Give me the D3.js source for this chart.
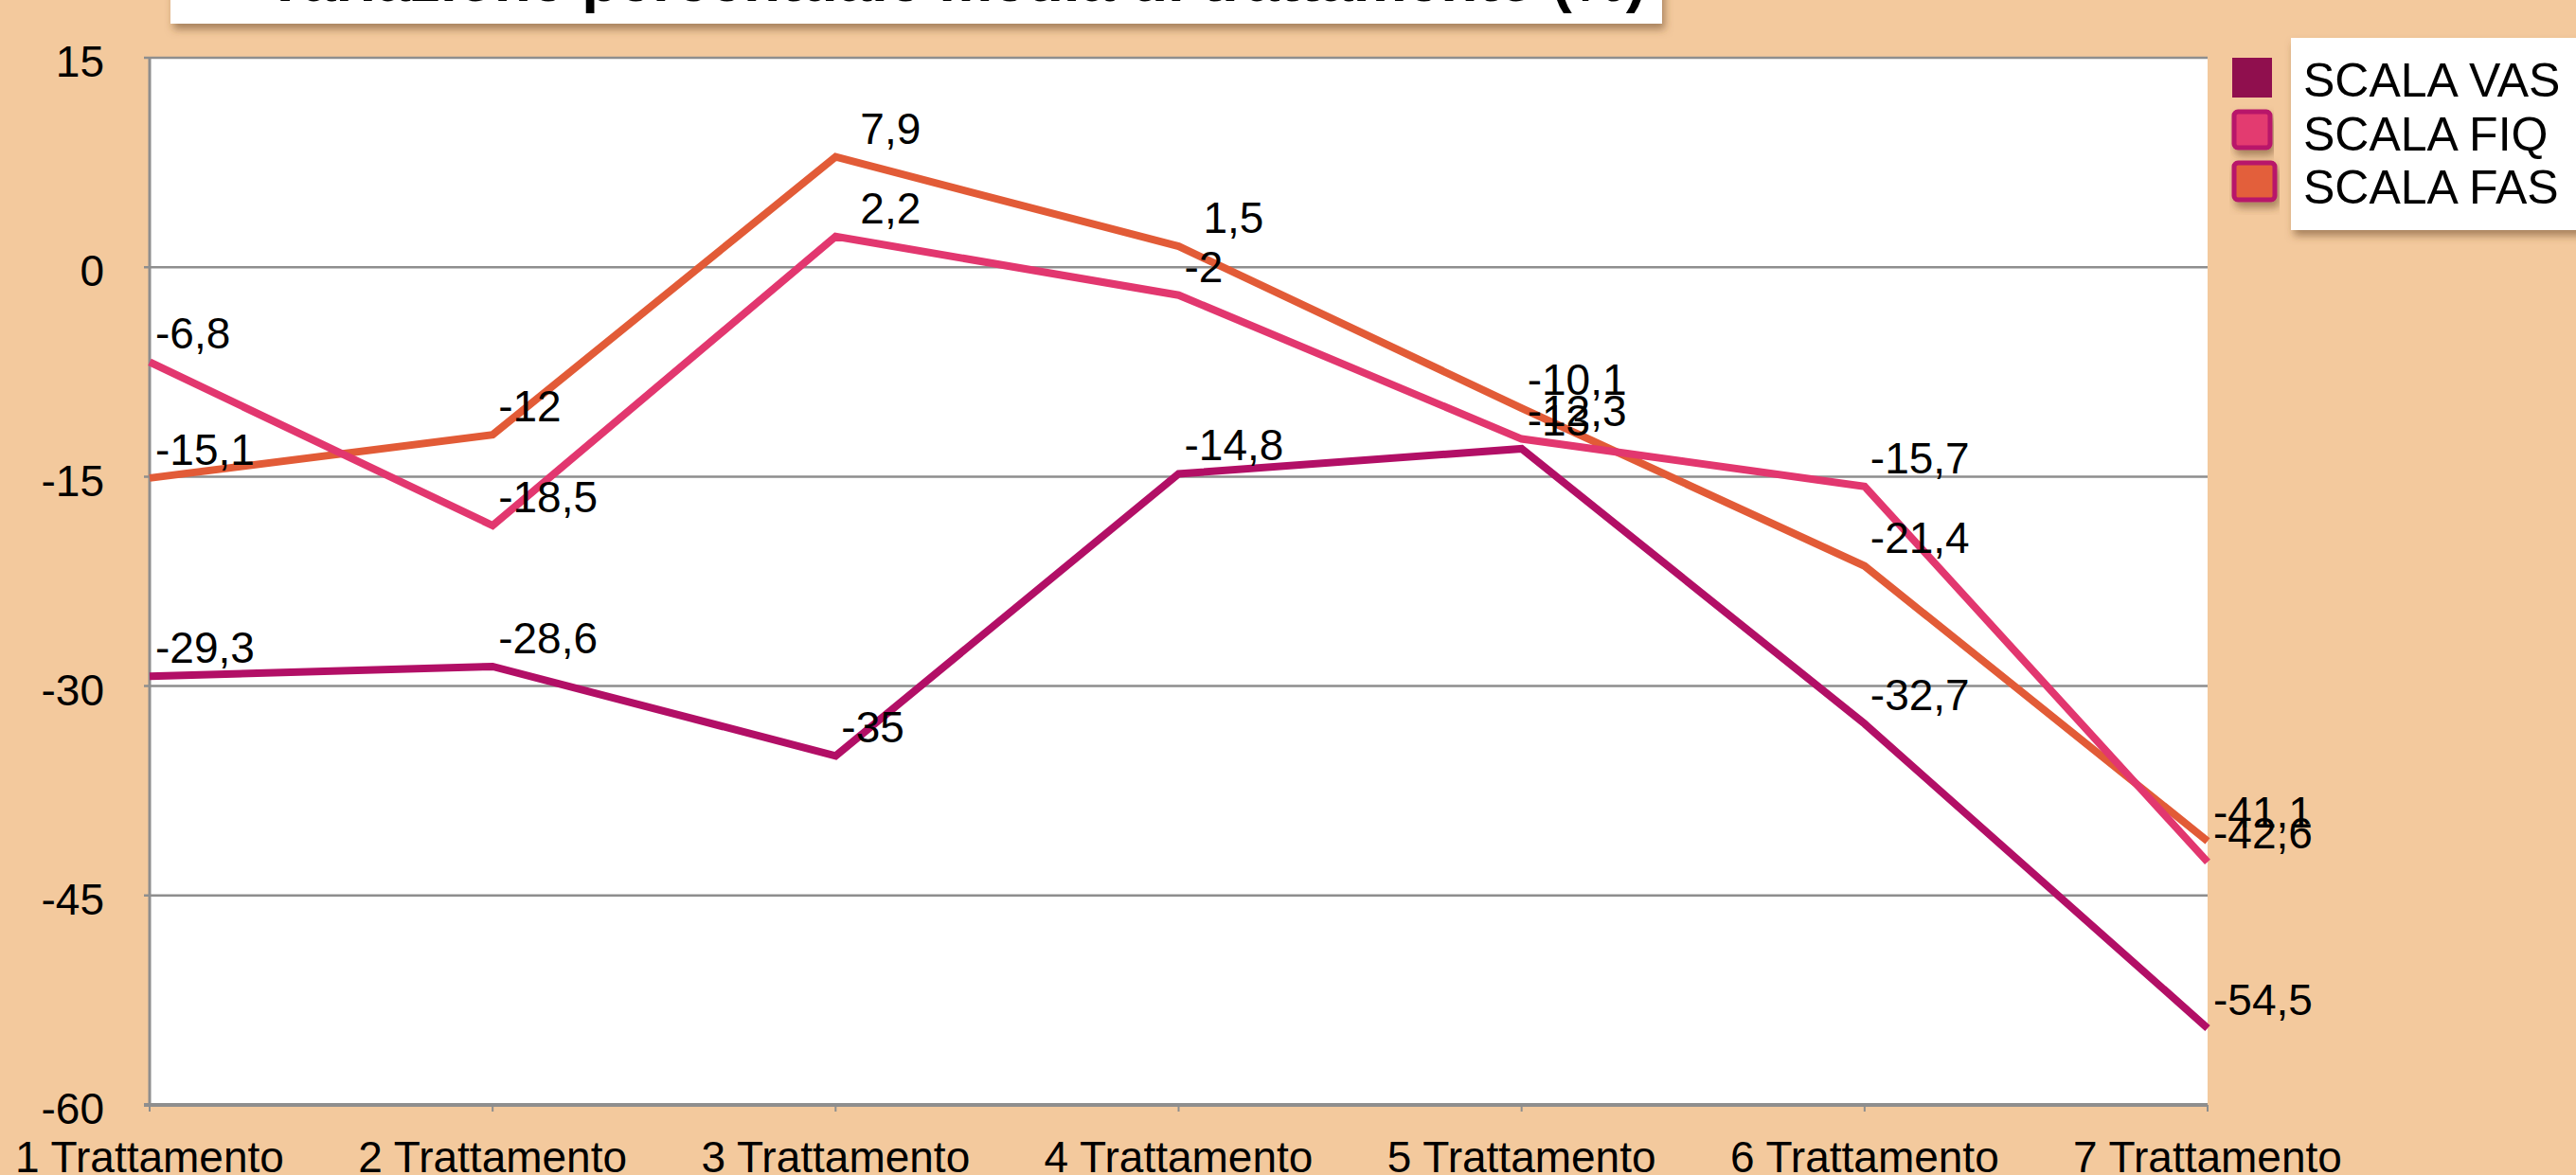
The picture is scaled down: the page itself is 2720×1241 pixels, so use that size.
<!DOCTYPE html>
<html>
<head>
<meta charset="utf-8">
<script src="https://cdn.jsdelivr.net/npm/d3@7/dist/d3.min.js"></script>
<style>
    body { margin: 0; background: #f3c99d; }
    text { font-family: Helvetica, Arial, "Liberation Sans", sans-serif; fill: #000; }
</style>
</head>
<body>
<svg id="chart"></svg>
<script>
// Chart data.
var categories = ["1 Trattamento", "2 Trattamento", "3 Trattamento", "4 Trattamento",
                  "5 Trattamento", "6 Trattamento", "7 Trattamento"];
var vasValues = [-29.3, -28.6, -35, -14.8, -13, -32.7, -54.5];
var fiqValues = [-6.8, -18.5, 2.2, -2, -12.3, -15.7, -42.6];
var fasValues = [-15.1, -12, 7.9, 1.5, -10.1, -21.4, -41.1];
var seriesNames = ["SCALA VAS", "SCALA FIQ", "SCALA FAS"];
var yTicks = [15, 0, -15, -30, -45, -60];
var title = "Variazione percentuale media di trattamento (%)";

var width = 2720, height = 1241;
var plot = { left: 158, right: 2331, top: 61, bottom: 1167 };

var series = [
    { name: seriesNames[0], values: vasValues, line: "#b20f66", fill: "#900f4e", border: null },
    { name: seriesNames[1], values: fiqValues, line: "#e2376f", fill: "#e33b6f", border: "#b8126a" },
    { name: seriesNames[2], values: fasValues, line: "#e25b37", fill: "#e35f3a", border: "#b8126a" }
];

var svg = d3.select("#chart").attr("width", width).attr("height", height);

// Soft drop shadow for the title, legend boxes and swatches.
var defs = svg.append("defs");
defs.append("filter").attr("id", "shadow")
    .attr("x", "-10%").attr("y", "-30%").attr("width", "120%").attr("height", "170%")
    .append("feDropShadow")
    .attr("dx", 3).attr("dy", 6).attr("stdDeviation", 4)
    .attr("flood-color", "#6b4a2a").attr("flood-opacity", 0.55);

svg.append("rect").attr("width", width).attr("height", height).attr("fill", "#f3c99d");

// Scales.
var x = d3.scalePoint().domain(categories).range([plot.left, plot.right]);
var y = d3.scaleLinear().domain([-60, 15]).range([plot.bottom, plot.top]);

// White plot area.
svg.append("rect")
    .attr("x", plot.left).attr("y", plot.top)
    .attr("width", plot.right - plot.left).attr("height", plot.bottom - plot.top)
    .attr("fill", "#fff");

// Horizontal grid lines.
svg.append("g")
    .selectAll("line")
    .data(yTicks)
    .enter().append("line")
    .attr("x1", plot.left - 6).attr("x2", plot.right)
    .attr("y1", y).attr("y2", y)
    .attr("stroke", "#8e8e8e")
    .attr("stroke-width", function(d) { return d === -60 ? 4 : 2.5; });

// Y axis line and labels.
svg.append("line")
    .attr("x1", plot.left).attr("x2", plot.left)
    .attr("y1", plot.top).attr("y2", plot.bottom)
    .attr("stroke", "#8e8e8e").attr("stroke-width", 3);

svg.append("g")
    .selectAll("text")
    .data(yTicks)
    .enter().append("text")
    .attr("x", 110)
    .attr("y", function(d) { return y(d) + 4; })
    .attr("dy", "0.35em")
    .attr("text-anchor", "end")
    .attr("font-size", 46)
    .text(function(d) { return d; });

// X ticks and labels.
svg.append("g")
    .selectAll("line")
    .data(categories)
    .enter().append("line")
    .attr("x1", x).attr("x2", x)
    .attr("y1", plot.bottom).attr("y2", plot.bottom + 7)
    .attr("stroke", "#8e8e8e").attr("stroke-width", 2);

svg.append("g")
    .selectAll("text")
    .data(categories)
    .enter().append("text")
    .attr("x", x)
    .attr("y", 1238)
    .attr("text-anchor", "middle")
    .attr("font-size", 46)
    .text(function(d) { return d; });

// Lines: VAS first, then FAS, FIQ on top.
var line = d3.line()
    .x(function(d, i) { return x(categories[i]); })
    .y(function(d) { return y(d); });

[series[0], series[2], series[1]].forEach(function(s) {
    svg.append("path")
        .datum(s.values)
        .attr("d", line)
        .attr("fill", "none")
        .attr("stroke", s.line)
        .attr("stroke-width", 8)
        .attr("stroke-linejoin", "miter");
});

// Value labels above each point (comma as decimal mark).
var fmt = function(v) { return String(v).replace(".", ","); };
series.forEach(function(s) {
    svg.append("g")
        .selectAll("text")
        .data(s.values)
        .enter().append("text")
        .attr("x", function(d, i) { return x(categories[i]) + (d > 0 ? 26 : 6); })
        .attr("y", function(d) { return y(d) - 14; })
        .attr("font-size", 46)
        .text(fmt);
});

// Title box, mostly cut off at the top.
var titleBox = svg.append("g");
titleBox.append("rect")
    .attr("x", 180).attr("y", -40).attr("width", 1575).attr("height", 65)
    .attr("fill", "#fff").attr("filter", "url(#shadow)");
titleBox.append("text")
    .attr("x", 1738).attr("y", 1)
    .attr("text-anchor", "end")
    .attr("font-size", 64).attr("font-weight", "bold")
    .text(title);

// Legend.
var legend = svg.append("g");
legend.append("rect")
    .attr("x", 2419).attr("y", 40).attr("width", 320).attr("height", 203)
    .attr("fill", "#fff").attr("filter", "url(#shadow)");

var swatches = [
    { x: 2357, y: 61, w: 42, h: 42 },
    { x: 2359, y: 118, w: 38, h: 38 },
    { x: 2359, y: 172, w: 43, h: 39 }
];
series.forEach(function(s, i) {
    var sw = swatches[i];
    legend.append("rect")
        .attr("x", sw.x).attr("y", sw.y).attr("width", sw.w).attr("height", sw.h)
        .attr("rx", s.border ? 4 : 0)
        .attr("fill", s.fill)
        .attr("stroke", s.border || "none")
        .attr("stroke-width", s.border ? 5 : 0)
        .attr("filter", s.border ? "url(#shadow)" : null);
    legend.append("text")
        .attr("x", 2432).attr("y", 102 + i * 56.5)
        .attr("font-size", 50)
        .text(s.name);
});
</script>
</body>
</html>
